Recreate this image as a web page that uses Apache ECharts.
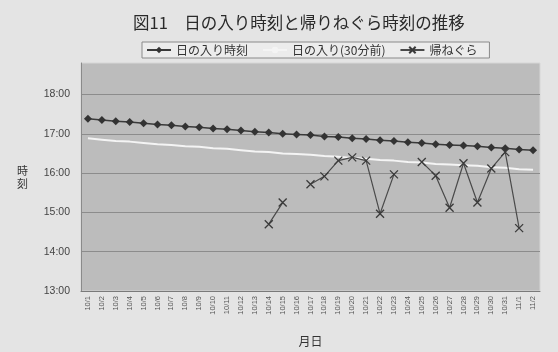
<!DOCTYPE html>
<html>
<head>
<meta charset="utf-8">
<script src="https://cdn.jsdelivr.net/npm/echarts@6/dist/echarts.min.js"></script>
<style>
  html, body { margin: 0; padding: 0; background: #e4e4e4; }
  #chart { width: 558px; height: 352px; }
</style>
</head>
<body>
<div id="chart"></div>
<script>
// 月日 (category axis)
const dates = [
  '10/1','10/2','10/3','10/4','10/5','10/6','10/7','10/8','10/9','10/10',
  '10/11','10/12','10/13','10/14','10/15','10/16','10/17','10/18','10/19','10/20',
  '10/21','10/22','10/23','10/24','10/25','10/26','10/27','10/28','10/29','10/30',
  '10/31','11/1','11/2'
];

// 日の入り時刻 (minutes after midnight)
const sunset = [
  1043, 1041, 1039, 1038, 1036, 1034, 1033, 1031, 1030, 1028,
  1027, 1025, 1023, 1022, 1020, 1019, 1018, 1016, 1015, 1013,
  1012, 1010, 1009, 1007, 1006, 1004, 1003, 1002, 1001, 999,
  998, 996, 995
];

// 日の入り(30分前) (minutes after midnight)
const sunsetEarly = [
  1013, 1011, 1009, 1008, 1006, 1004, 1003, 1001, 1000, 998,
  997, 995, 993, 992, 990, 989, 988, 986, 985, 983,
  982, 980, 979, 977, 976, 974, 973, 972, 971, 969,
  968, 966, 965
];

// 帰ねぐら (minutes after midnight, null = no observation)
const roost = [
  null, null, null, null, null, null, null, null, null, null,
  null, null, null, 882, 915, null, 943, 955, 979, 984,
  979, 898, 958, null, 977, 956, 907, 975, 915, 967,
  992, 876, null
];

// 縦軸の目盛ラベル
const hourLabels = ['13:00', '14:00', '15:00', '16:00', '17:00', '18:00'];

const FONT = '"Noto Sans CJK JP", "Noto Sans", sans-serif';
const NUM_FONT = '"Liberation Sans", Arial, sans-serif';
const crossPath = 'path://M0,0L10,10M10,0L0,10';

const chart = echarts.init(document.getElementById('chart'), null, { renderer: 'canvas' });

chart.setOption({
  animation: false,
  backgroundColor: '#e4e4e4',
  textStyle: { fontFamily: FONT, color: '#333' },
  title: {
    text: '図11　日の入り時刻と帰りねぐら時刻の推移',
    left: 128,
    top: 9,
    textStyle: { fontFamily: FONT, fontSize: 16.5, fontWeight: 'normal', color: '#2a2a2a' }
  },
  legend: {
    left: 142,
    top: 42,
    padding: [2, 12, 2, 4],
    itemWidth: 24,
    itemHeight: 8,
    itemGap: 14,
    borderColor: '#8a8a8a',
    borderWidth: 1,
    backgroundColor: '#ececec',
    textStyle: { fontFamily: FONT, fontSize: 12, color: '#333' },
    data: ['日の入り時刻', '日の入り(30分前)', '帰ねぐら']
  },
  grid: {
    left: 81,
    right: 18,
    top: 63,
    bottom: 54,
    show: true,
    backgroundColor: '#bcbcbc',
    borderColor: '#d6d6d6',
    borderWidth: 1
  },
  xAxis: {
    type: 'category',
    data: dates,
    boundaryGap: true,
    name: '月日',
    nameLocation: 'middle',
    nameGap: 44,
    nameTextStyle: { fontFamily: FONT, fontSize: 12, color: '#333' },
    axisLine: { lineStyle: { color: '#7a7a7a', width: 1 } },
    axisTick: { show: false },
    axisLabel: {
      interval: 0,
      rotate: 90,
      margin: 5,
      fontSize: 7.5,
      color: '#555',
      fontFamily: NUM_FONT
    }
  },
  yAxis: {
    type: 'value',
    min: 780,
    max: 1128,
    interval: 60,
    name: '時\n刻',
    nameLocation: 'middle',
    nameRotate: 0,
    nameGap: 53,
    nameTextStyle: { fontFamily: FONT, fontSize: 11, color: '#333', lineHeight: 13 },
    axisLine: { show: true, lineStyle: { color: '#8a8a8a' } },
    axisTick: { show: false },
    axisLabel: {
      margin: 11,
      fontSize: 10.5,
      color: '#444',
      fontFamily: NUM_FONT,
      formatter: function (v) {
        if (v % 60 !== 0) return '';
        const idx = (v - 780) / 60;
        return hourLabels[idx] || '';
      }
    },
    splitLine: {
      show: true,
      showMaxLine: false,
      lineStyle: { color: '#8c8c8c', width: 1.2 }
    }
  },
  series: [
    {
      name: '日の入り(30分前)',
      type: 'line',
      data: sunsetEarly,
      symbol: 'none',
      lineStyle: { color: '#f4f4f4', width: 2 },
      itemStyle: { color: '#f4f4f4' },
      z: 2
    },
    {
      name: '日の入り時刻',
      type: 'line',
      data: sunset,
      symbol: 'diamond',
      symbolSize: 8,
      lineStyle: { color: '#3a3a3a', width: 1.5 },
      itemStyle: { color: '#333' },
      z: 3
    },
    {
      name: '帰ねぐら',
      type: 'line',
      data: roost,
      connectNulls: false,
      symbol: crossPath,
      symbolSize: 8,
      lineStyle: { color: '#4a4a4a', width: 1.2 },
      itemStyle: { color: 'rgba(0,0,0,0)', borderColor: '#3a3a3a', borderWidth: 1.3 },
      z: 4
    }
  ]
});
</script>
</body>
</html>
